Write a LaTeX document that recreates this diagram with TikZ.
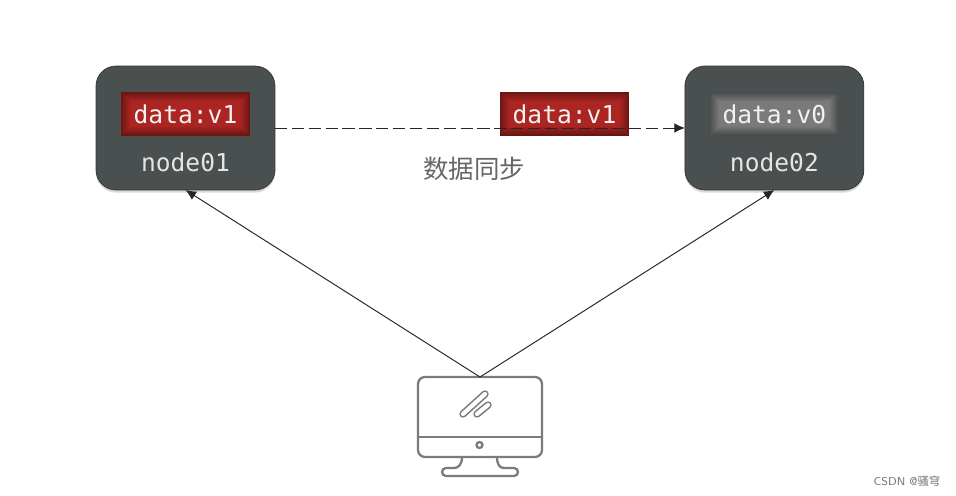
\documentclass[tikz,border=0pt]{standalone}
\usepackage{fontspec}
\setmonofont{DejaVu Sans Mono}
\newfontfamily\cjkfont{Noto Sans CJK SC}
\usetikzlibrary{shapes,arrows.meta,positioning,calc,shadows}
\definecolor{boxgray}{HTML}{4A5050}
\definecolor{iconGray}{HTML}{7B7B7B}
\definecolor{redEdge}{HTML}{6A1512}
\definecolor{redMid}{HTML}{AB2522}
\definecolor{grayEdge}{HTML}{484C4C}
\definecolor{grayMid}{HTML}{7A7A7A}
\tikzstyle{line} = [draw, -{Latex[length=6pt,width=5.5pt]}, line width=0.55pt, black!85]
\tikzset{
  serverbox/.style={draw=black!80, rectangle, rounded corners=0.4cm, fill=boxgray, minimum width=3.58cm, minimum height=2.48cm, outer sep=0pt, drop shadow={opacity=0.3, shadow xshift=0pt, shadow yshift=-1.5pt}},
  % value box: dark edge, nested lighter rectangles towards the middle
  databox/.style 2 args={rectangle, fill=#1, minimum width=2.6cm, minimum height=0.88cm, outer sep=0pt, inner sep=0pt, text=white!95!black, font=\ttfamily\fontsize{14}{16}\selectfont,
    path picture={\foreach \i in {0,5,...,100} {\fill[#2!\i!#1] ($(path picture bounding box.south west)+(\i*0.002cm,\i*0.002cm)$) rectangle ($(path picture bounding box.north east)-(\i*0.002cm,\i*0.002cm)$);}}},
  nametext/.style={text=white!90!black, font=\ttfamily\fontsize{14}{16}\selectfont, inner sep=0pt},
  icon/.style={draw=iconGray, line width=1.3pt}
}
\begin{document}
\begin{tikzpicture}[x=0.02cm, y=-0.02cm, node distance = 1.0cm, auto]
    \useasboundingbox (0,0) rectangle (956,496);

    \node [serverbox] (box01) at (185.5,128) {};
    \node [databox={redEdge}{redMid}, below=0.52cm of box01.north] (data01) {data:v1};
    \node [nametext, below=0.32cm of data01] (name01) {node01};

    \node [serverbox, right=8.2cm of box01] (box02) {};
    \node [databox={grayEdge}{grayMid}, below=0.52cm of box02.north] (data02) {data:v0};
    \node [nametext, below=0.32cm of data02] (name02) {node02};

    \node [databox={redEdge}{redMid}] (sync) at (564.5,114) {data:v1};
    \node [text=black!60, font=\cjkfont\fontsize{14.5}{16}\selectfont, inner sep=0pt] (synclabel) at (474,169) {数据同步};

    \node [icon, rectangle, rounded corners=0.14cm, minimum width=2.48cm, minimum height=1.6cm, outer sep=0pt] (client) at (480,417) {};
    % monitor details
    \draw [icon] (client.west |- 0,437) -- (client.east |- 0,437);
    \draw [icon] (479.5,445) circle (3);
    \draw [icon, rounded corners=0.08cm] (462,457) .. controls (462,465) and (458,468) .. (450,468) -- (442,468) -- (442,476) -- (518,476) -- (518,468) -- (508,468) .. controls (500,468) and (497,465) .. (497,457);
    \draw [icon, line width=0.9pt, double=white, double distance=2.4pt, line cap=round] (463,414) -- (485,394);
    \draw [icon, line width=0.9pt, double=white, double distance=2.4pt, line cap=round] (477,414) -- (488,405);

    \path [line, dash pattern=on 7pt off 2.6pt] (box01.east) -- (box02.west);
    \path [line] (client.north) -- (box01.south);
    \path [line] (client.north) -- (box02.south);

    \node [text=black!55, font=\fontsize{6.5}{8}\selectfont\sffamily, inner sep=0pt] (mark) at (907,481) {CSDN @{\cjkfont 骚穹}};
\end{tikzpicture}
\end{document}
